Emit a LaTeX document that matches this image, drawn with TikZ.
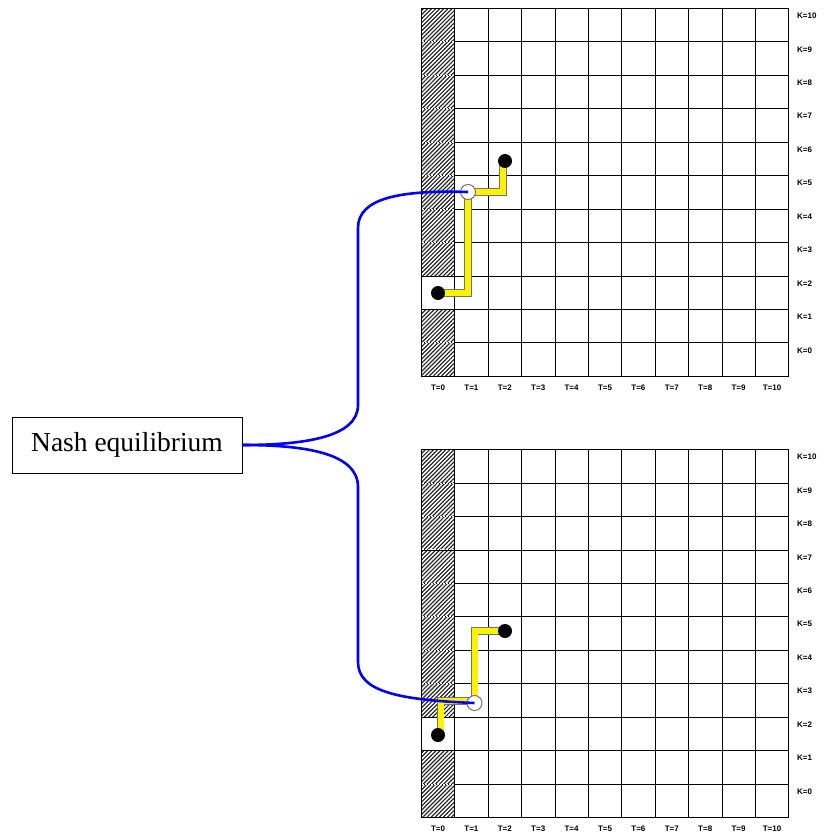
\documentclass[tikz,border=0pt]{standalone}
\usepackage{fontspec}
\setmainfont{Liberation Serif}
\newfontfamily\lblfont{Liberation Sans}
\usetikzlibrary{patterns.meta}
\newcommand\mygrid[3]{%
 \foreach \r in {0,...,10}{%
   \ifnum\r=#2\relax\else
     \fill[hatchcell] (421.3,{#1+\r*33.45}) rectangle (454.7,{#1+(\r+1)*33.45});
   \fi
 }
 \foreach \i in {0,...,11} \draw[gridline] ({421.3+\i*33.4},#1) -- ({421.3+\i*33.4},{#1+367.95});
 \foreach \r in {0,...,11} \draw[gridline] (421.3,{#1+\r*33.45}) -- (788.7,{#1+\r*33.45});
 \foreach \r in {1,...,10}{%
   \pgfmathtruncatemacro\rr{\r-1}%
   \ifnum\r=#2\relax\else\ifnum\rr=#2\relax\else
     \draw[white,line width=0.8pt,dash pattern=on 1.5pt off 1.5pt] (422,{#1+\r*33.45}) -- (454.2,{#1+\r*33.45});
   \fi\fi
 }
 \foreach \i in {0,...,10} \node[lbl] (#3T\i) at ({421.3+(\i+0.5)*33.4},{#1+379.5}) {T=\i};
 \foreach \r in {0,...,10} {\pgfmathtruncatemacro\k{10-\r}\node[lbl,anchor=west] (#3K\k) at (797,{#1+\r*33.45+7.5}) {K=\k};}
}
\begin{document}
\begin{tikzpicture}[x=1pt,y=-1pt,
 gridline/.style={draw=black,line width=0.7pt},
 hatchcell/.style={pattern={Lines[angle=45,distance=2.9pt,line width=1.2pt]},pattern color=black!85},
 lbl/.style={font=\lblfont\bfseries\fontsize{8}{9}\selectfont,inner sep=0pt},
 ypath/.style={draw=black!55,line width=0.9pt,double=yellow,double distance=6pt,line join=miter},
 bdot/.style={circle,fill=black,minimum size=14pt,inner sep=0pt},
 wdot/.style={circle,fill=white,draw=black!55,line width=1pt,minimum size=15pt,inner sep=0pt},
 nashline/.style={draw=blue,line width=2.6pt},
 nashbox/.style={draw=black,line width=0.8pt,minimum width=230pt,minimum height=56pt,inner sep=0pt,font=\fontsize{27.5}{30}\selectfont}
]
\useasboundingbox (0,0) rectangle (823,834);
% grids
\mygrid{8.3}{8}{a}
\mygrid{449.5}{8}{b}
% path points
\coordinate (pA) at (438,293);
\coordinate (pW1) at (468,192);
\coordinate (pB) at (503,161);
\coordinate (pC) at (440.5,735);
\coordinate (pW2) at (474.5,701);
\coordinate (pD) at (505,631);
% yellow paths
\draw[ypath] (pA) -| (pW1) -| (pB);
\draw[ypath] (pC) |- (pW2) |- (pD);
% dots
\node[bdot] (dA) at (pA) {};
\node[bdot] (dB) at (505,161) {};
\node[wdot] (w1) at (pW1) {};
\node[bdot] (dC) at (438,735) {};
\node[bdot] (dD) at (pD) {};
\node[wdot] (w2) at (474.5,703) {};
% Nash box
\node[nashbox] (nash) at (127,445) {Nash equilibrium};
% blue connectors
\draw[nashline] (nash.east) .. controls (305,445) and (358,437) .. (358,405) -- (358,228) .. controls (358,198) and (400,190) .. (w1.center);
\draw[nashline] (nash.east) .. controls (305,445) and (358,453) .. (358,487) -- (358,662) .. controls (358,692) and (400,700) .. (w2.center);
\end{tikzpicture}
\end{document}
